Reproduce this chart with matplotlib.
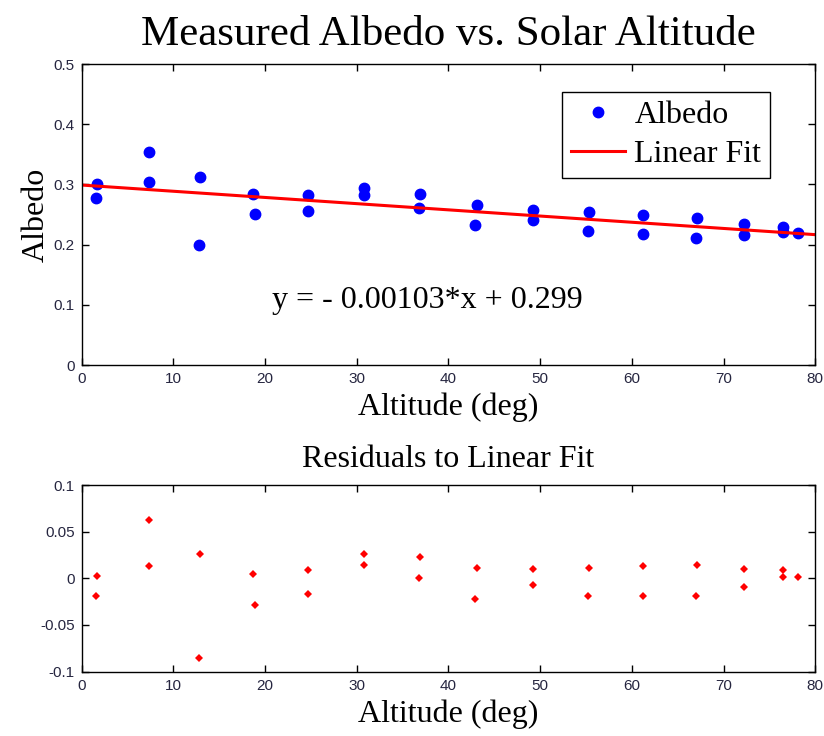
import matplotlib
matplotlib.use("Agg")
import matplotlib.pyplot as plt
import numpy as np

# measured albedo against solar altitude (deg)
altitude = [1.7, 1.6, 7.3, 7.3, 12.9, 12.8, 18.7, 18.9, 24.7, 24.7,
            30.8, 30.8, 36.9, 36.8, 43.1, 42.9, 49.2, 49.2, 55.3, 55.2,
            61.2, 61.2, 67.1, 67.0, 72.2, 72.2, 76.5, 76.5, 78.1]
albedo = [0.300, 0.278, 0.3535, 0.3045, 0.312, 0.200, 0.284, 0.251, 0.282, 0.2565,
          0.2936, 0.2819, 0.2841, 0.261, 0.266, 0.2329, 0.2583, 0.241, 0.2534, 0.223,
          0.2488, 0.217, 0.2445, 0.2109, 0.2346, 0.2156, 0.2288, 0.2212, 0.2196]

# linear fit coefficients
slope = -0.00103
intercept = 0.299
fit_x = [0, 80]

x = np.array(altitude)
y = np.array(albedo)
resid = y - (slope * x + intercept)

serif = "Liberation Serif"
sans = "Liberation Sans"
tick_color = "#262640"

fig = plt.figure(figsize=(8.24, 7.36), dpi=100)
ax1 = fig.add_axes([0.0990, 0.504, 0.8905, 0.409])
ax2 = fig.add_axes([0.0990, 0.0875, 0.8905, 0.2535])

ax1.plot(x, y, "o", color="blue", markersize=7.5, label="Albedo")
fx = np.array(fit_x)
ax1.plot(fx, slope * fx + intercept, "-", color="red", linewidth=2.2, label="Linear Fit")
ax1.set_xlim(0, 80)
ax1.set_ylim(0, 0.5)
ax1.set_xticks(range(0, 81, 10))
ax1.set_yticks([0, 0.1, 0.2, 0.3, 0.4, 0.5])
ax1.set_yticklabels(["0", "0.1", "0.2", "0.3", "0.4", "0.5"])
ax1.set_title("Measured Albedo vs. Solar Altitude", fontfamily=serif, fontsize=31, pad=14)
ax1.set_xlabel("Altitude (deg)", fontfamily=serif, fontsize=23, labelpad=5)
ax1.set_ylabel("Albedo", fontfamily=serif, fontsize=23, labelpad=2)
ax1.text(37.7, 0.108, "y = - 0.00103*x + 0.299", ha="center", va="center",
         fontfamily=serif, fontsize=23)
leg = ax1.legend(loc="upper right", bbox_to_anchor=(0.9387, 0.907),
                 prop={"family": serif, "size": 23}, fancybox=False,
                 edgecolor="black", framealpha=1, handlelength=1.7,
                 borderpad=0.28, labelspacing=0.3, handletextpad=0.3,
                 numpoints=1, borderaxespad=0)
leg.get_frame().set_linewidth(1.0)

ax2.plot(x, resid, "D", color="red", markersize=4, markeredgewidth=0)
ax2.set_xlim(0, 80)
ax2.set_ylim(-0.1, 0.1)
ax2.set_xticks(range(0, 81, 10))
ax2.set_yticks([-0.1, -0.05, 0, 0.05, 0.1])
ax2.set_yticklabels(["-0.1", "-0.05", "0", "0.05", "0.1"])
ax2.set_title("Residuals to Linear Fit", fontfamily=serif, fontsize=23, pad=13)
ax2.set_xlabel("Altitude (deg)", fontfamily=serif, fontsize=23, labelpad=5)

for ax in (ax1, ax2):
    ax.tick_params(direction="in", top=True, right=True, length=5, width=1,
                   labelsize=11, labelcolor=tick_color, pad=5)
    for lab in ax.get_xticklabels() + ax.get_yticklabels():
        lab.set_fontfamily(sans)
    for s in ax.spines.values():
        s.set_linewidth(1.0)

fig.savefig("out.png", dpi=100)
